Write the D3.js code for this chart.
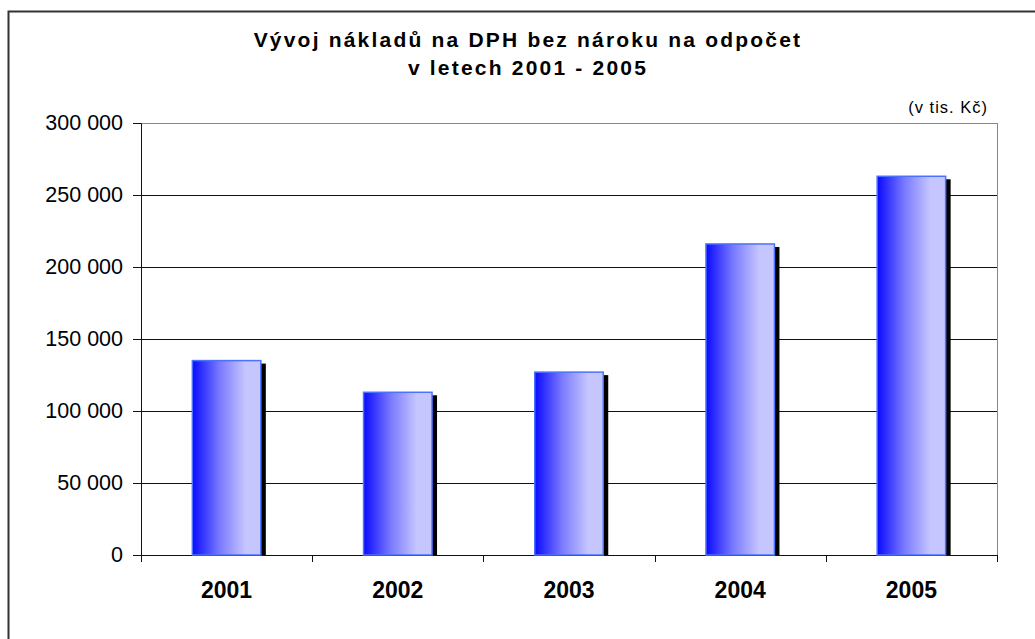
<!DOCTYPE html>
<html>
<head>
<meta charset="utf-8">
<script src="https://cdn.jsdelivr.net/npm/d3@7"></script>
<style>
  body { margin: 0; background: #fff; }
  svg { display: block; font-family: Arial, "Liberation Sans", sans-serif; }
</style>
</head>
<body>
<script>
// Data
const years = ['2001', '2002', '2003', '2004', '2005'];
const costs = [135000, 113000, 127000, 216000, 263000];
const yTicks = [0, 50000, 100000, 150000, 200000, 250000, 300000];
const titleLines = ['Vývoj nákladů na DPH bez nároku na odpočet', 'v letech 2001 - 2005'];
const unitLabel = '(v tis. Kč)';

const W = 1035, H = 639;
const margin = { top: 123, right: 38, bottom: 84, left: 141 };
const width = W - margin.left - margin.right;
const height = H - margin.top - margin.bottom;

const svg = d3.select('body')
    .append('svg')
    .attr('width', W)
    .attr('height', H);

// gradient for the bars
const grad = svg.append('defs').append('linearGradient')
    .attr('id', 'barGrad')
    .attr('x1', '0%').attr('x2', '100%')
    .attr('y1', '0%').attr('y2', '0%');
grad.append('stop').attr('offset', '0%').attr('stop-color', '#0a0aff');
grad.append('stop').attr('offset', '40%').attr('stop-color', '#7a7aff');
grad.append('stop').attr('offset', '78%').attr('stop-color', '#c6c6ff');
grad.append('stop').attr('offset', '100%').attr('stop-color', '#c6c6ff');

// outer frame (runs off the right and bottom edges)
svg.append('rect')
    .attr('x', 8.5).attr('y', 11.5)
    .attr('width', 1100).attr('height', 700)
    .attr('fill', 'none')
    .attr('stroke', '#333')
    .attr('stroke-width', 2);

// title
svg.append('text')
    .attr('text-anchor', 'middle')
    .style('font-size', '21px')
    .style('font-weight', 'bold')
    .style('letter-spacing', '2.2px')
    .selectAll('tspan')
    .data(titleLines)
    .join('tspan')
    .attr('x', 528)
    .attr('y', (d, i) => 47 + i * 28)
    .text(d => d);

// unit label
svg.append('text')
    .attr('x', 988)
    .attr('y', 113)
    .attr('text-anchor', 'end')
    .style('font-size', '16.5px')
    .style('letter-spacing', '1px')
    .text(unitLabel);

const g = svg.append('g')
    .attr('transform', `translate(${margin.left}, ${margin.top})`);

const x = d3.scaleBand()
    .domain(years)
    .range([0, width])
    .paddingInner(0.6)
    .paddingOuter(0.3);

const y = d3.scaleLinear()
    .domain([0, 300000])
    .range([height, 0]);

const fmt = v => d3.format(',')(v).replace(/,/g, ' ');

// gridlines
g.selectAll('.grid')
    .data(yTicks.filter(t => t > 0))
    .join('line')
    .attr('class', 'grid')
    .attr('x1', 0).attr('x2', width)
    .attr('y1', d => Math.round(y(d)) + 0.5)
    .attr('y2', d => Math.round(y(d)) + 0.5)
    .attr('stroke', d => d === 300000 ? '#888' : '#111')
    .attr('stroke-width', 1);

// right border of plot area
g.append('line')
    .attr('x1', width + 0.5).attr('x2', width + 0.5)
    .attr('y1', 0).attr('y2', height)
    .attr('stroke', '#888');

// y axis
const yAxis = g.append('g')
    .call(d3.axisLeft(y).tickValues(yTicks).tickFormat(fmt).tickSize(8).tickPadding(10));
yAxis.select('.domain').attr('stroke', '#111');
yAxis.selectAll('.tick line').attr('stroke', '#111');
yAxis.selectAll('text')
    .style('font-size', '21.5px')
    .style('font-family', 'Arial, "Liberation Sans", sans-serif')
    .attr('fill', '#000');

// x axis, ticks sit on band boundaries
const xAxis = g.append('g')
    .attr('transform', `translate(0, ${height})`);
xAxis.append('line')
    .attr('x1', 0).attr('x2', width)
    .attr('y1', 0.5).attr('y2', 0.5)
    .attr('stroke', '#111');
const step = width / years.length;
xAxis.selectAll('.xtick')
    .data(d3.range(years.length + 1))
    .join('line')
    .attr('class', 'xtick')
    .attr('x1', i => Math.round(i * step) + 0.5)
    .attr('x2', i => Math.round(i * step) + 0.5)
    .attr('y1', 0).attr('y2', 7)
    .attr('stroke', '#111');
xAxis.selectAll('.xlabel')
    .data(years)
    .join('text')
    .attr('class', 'xlabel')
    .attr('x', d => x(d) + x.bandwidth() / 2)
    .attr('y', 43)
    .attr('text-anchor', 'middle')
    .style('font-size', '23px')
    .style('font-weight', 'bold')
    .text(d => d);

// bar shadows
g.selectAll('.shadow')
    .data(years)
    .join('rect')
    .attr('class', 'shadow')
    .attr('x', d => x(d) + 5)
    .attr('y', (d, i) => y(costs[i]) + 3)
    .attr('width', x.bandwidth())
    .attr('height', (d, i) => height - y(costs[i]) - 3)
    .attr('fill', '#000');

// bars
g.selectAll('.bar')
    .data(years)
    .join('rect')
    .attr('class', 'bar')
    .attr('x', d => x(d))
    .attr('y', (d, i) => y(costs[i]))
    .attr('width', x.bandwidth())
    .attr('height', (d, i) => height - y(costs[i]))
    .attr('fill', 'url(#barGrad)')
    .attr('stroke', '#4a72ff')
    .attr('stroke-width', 1.5);
</script>
</body>
</html>
